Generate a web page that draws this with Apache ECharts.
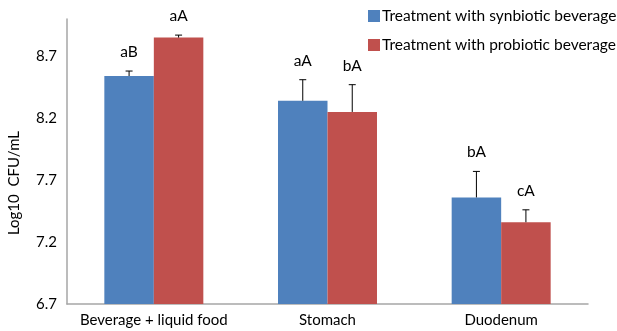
<!DOCTYPE html>
<html>
<head>
<meta charset="utf-8">
<script src="https://cdn.jsdelivr.net/npm/echarts@6/dist/echarts.min.js"></script>
<style>
  html, body { margin: 0; padding: 0; background: #fff; }
  #chart { width: 617px; height: 331px; }
</style>
</head>
<body>
<div id="chart"></div>
<script>
// Viable counts (log10 CFU/mL) by digestion stage
const categories = ['Beverage + liquid food', 'Stomach', 'Duodenum'];
const seriesNames = ['Treatment with synbiotic beverage', 'Treatment with probiotic beverage'];
const synbiotic = [8.54, 8.34, 7.56];
const synbioticSD = [0.04, 0.17, 0.21];
const synbioticLetters = ['aB', 'aA', 'bA'];
const probiotic = [8.85, 8.25, 7.36];
const probioticSD = [0.02, 0.22, 0.10];
const probioticLetters = ['aA', 'bA', 'cA'];
const yTickLabels = [6.7, 7.2, 7.7, 8.2, 8.7];

const FONT = 'Lato, "Open Sans", sans-serif';
const BAR_FRACTION = 0.285;
const colors = ['#4F81BD', '#C0504D'];

function errorData(values, sds, letters) {
  return values.map((v, i) => [i, v, v + sds[i], letters[i]]);
}

// Error bar (upper half only) with its significance letters above
function makeErrorRenderer(side) {
  return function (params, api) {
    const cat = api.value(0);
    const mean = api.value(1);
    const top = api.value(2);
    const letter = api.value(3);
    const band = api.size([1, 0])[0];
    const center = api.coord([cat, mean]);
    const x = center[0] + side * band * BAR_FRACTION / 2;
    const yMean = center[1];
    const yTop = api.coord([cat, top])[1];
    const cap = 3.5;
    const stroke = { stroke: '#000', lineWidth: 1 };
    return {
      type: 'group',
      children: [
        { type: 'line', shape: { x1: x, y1: yMean, x2: x, y2: yTop }, style: stroke },
        { type: 'line', shape: { x1: x - cap, y1: yTop, x2: x + cap, y2: yTop }, style: stroke },
        {
          type: 'text',
          style: {
            text: letter, x: x, y: yTop - 19,
            align: 'center', verticalAlign: 'middle',
            fill: '#000', font: '15.5px ' + FONT
          }
        }
      ]
    };
  };
}

const chart = echarts.init(document.getElementById('chart'), null, { renderer: 'canvas' });
chart.setOption({
  animation: false,
  backgroundColor: '#fff',
  textStyle: { fontFamily: FONT },
  grid: { left: 67, right: 29, top: 19, bottom: 27, containLabel: false },
  legend: {
    orient: 'vertical',
    left: 368, top: 8, padding: 0,
    itemWidth: 12, itemHeight: 12, itemGap: 13,
    icon: 'rect',
    textStyle: { fontSize: 15.5, color: '#000', fontFamily: FONT, padding: [0, 0, 0, -3] },
    data: seriesNames
  },
  xAxis: {
    type: 'category',
    data: categories,
    axisLine: { lineStyle: { color: '#A6A6A6', width: 1.5 } },
    axisTick: { show: false },
    axisLabel: { color: '#000', fontSize: 15, margin: 9, interval: 0 }
  },
  yAxis: {
    type: 'value',
    min: 6.7, max: 9.0, interval: 0.1,
    axisLine: { show: true, lineStyle: { color: '#A6A6A6', width: 1.5 } },
    axisTick: { show: false },
    splitLine: { show: false },
    axisLabel: {
      color: '#000', fontSize: 15, margin: 10,
      formatter: function (v) {
        const hit = yTickLabels.find(t => Math.abs(t - v) < 1e-6);
        return hit !== undefined ? hit.toFixed(1) : '';
      }
    }
  },
  graphic: [{
    type: 'text',
    x: 14, y: 183, rotation: Math.PI / 2,
    style: { text: 'Log10  CFU/mL', font: '15px ' + FONT, fill: '#000', align: 'center', verticalAlign: 'middle' }
  }],
  series: [
    {
      name: seriesNames[0], type: 'bar', data: synbiotic,
      barWidth: (BAR_FRACTION * 100) + '%', barGap: '0%',
      itemStyle: { color: colors[0] }
    },
    {
      name: seriesNames[1], type: 'bar', data: probiotic,
      barWidth: (BAR_FRACTION * 100) + '%', barGap: '0%',
      itemStyle: { color: colors[1] }
    },
    {
      type: 'custom', renderItem: makeErrorRenderer(-1),
      data: errorData(synbiotic, synbioticSD, synbioticLetters), z: 5, silent: true
    },
    {
      type: 'custom', renderItem: makeErrorRenderer(1),
      data: errorData(probiotic, probioticSD, probioticLetters), z: 5, silent: true
    }
  ]
});
</script>
</body>
</html>
